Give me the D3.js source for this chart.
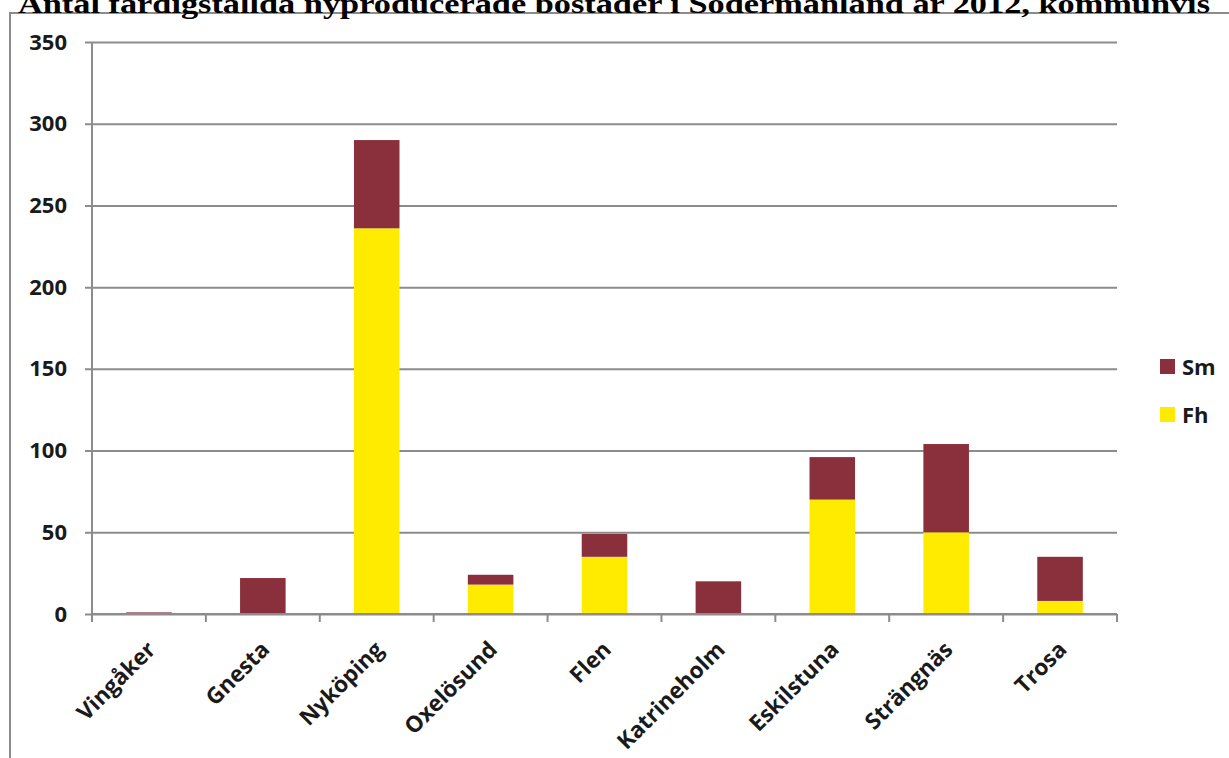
<!DOCTYPE html>
<html>
<head>
<meta charset="utf-8">
<script src="https://cdn.jsdelivr.net/npm/d3@7"></script>
<style>
  body { margin: 0; background: #fff; }
  svg { display: block; }
</style>
</head>
<body>
<div class="canvas"></div>
<script>
// data
const kommuner = ['Vingåker', 'Gnesta', 'Nyköping', 'Oxelösund', 'Flen', 'Katrineholm', 'Eskilstuna', 'Strängnäs', 'Trosa'];
const fh = [0, 0, 236, 18, 35, 0, 70, 50, 8];
const sm = [1, 22, 54, 6, 14, 20, 26, 54, 27];
const yTicks = [0, 50, 100, 150, 200, 250, 300, 350];
const seriesNames = ['Fh', 'Sm'];
const seriesColors = { Fh: '#ffeb00', Sm: '#8a303c' };

const rows = kommuner.map((k, i) => ({ kommun: k, Fh: fh[i], Sm: sm[i] }));

const svg = d3.select('.canvas').append('svg')
    .attr('width', 1229)
    .attr('height', 758);

// outer chart border (right/bottom fall outside the picture)
svg.append('rect')
    .attr('x', 10).attr('y', 13)
    .attr('width', 1300).attr('height', 800)
    .attr('fill', 'none')
    .attr('stroke', '#8c8c8c')
    .attr('stroke-width', 2);

svg.append('text')
    .attr('x', 18).attr('y', 13)
    .attr('textLength', 1192)
    .attr('lengthAdjust', 'spacingAndGlyphs')
    .style('font-family', 'Liberation Serif, serif')
    .style('font-weight', 'bold')
    .style('font-size', '27px')
    .attr('fill', '#000')
    .text('Antal färdigställda nyproducerade bostäder i Södermanland år 2012, kommunvis');

const plotLeft = 92, plotRight = 1117, plotTop = 42, plotBottom = 614;

const x = d3.scaleBand()
    .domain(kommuner)
    .range([plotLeft, plotRight])
    .paddingInner(0.6)
    .paddingOuter(0.3);

const y = d3.scaleLinear()
    .domain([0, 350])
    .range([plotBottom, plotTop]);

// gridlines + y labels
const yAxis = svg.append('g')
    .attr('transform', `translate(${plotLeft},0)`)
    .call(d3.axisLeft(y).tickValues(yTicks).tickSize(-(plotRight - plotLeft)).tickSizeOuter(0).tickPadding(25));
yAxis.select('.domain').remove();
yAxis.selectAll('.tick line')
    .attr('x1', -7)
    .attr('stroke', '#8c8c8c')
    .attr('stroke-width', 2);
yAxis.selectAll('.tick text')
    .style('font-family', 'Open Sans, sans-serif')
    .style('font-weight', 'bold')
    .style('font-size', '22px')
    .attr('fill', '#1a1a1a');

// vertical axis line
svg.append('line')
    .attr('x1', plotLeft).attr('x2', plotLeft)
    .attr('y1', plotTop).attr('y2', plotBottom)
    .attr('stroke', '#8c8c8c')
    .attr('stroke-width', 2);

// stacked bars
const stack = d3.stack().keys(seriesNames)(rows);

svg.append('g')
  .selectAll('g')
  .data(stack)
  .join('g')
    .attr('fill', d => seriesColors[d.key])
  .selectAll('rect')
  .data(d => d)
  .join('rect')
    .attr('x', d => x(d.data.kommun))
    .attr('width', x.bandwidth())
    .attr('y', d => y(d[1]))
    .attr('height', d => y(d[0]) - y(d[1]));

// x axis with category ticks on band edges
const step = x.step();
const xAxis = svg.append('g');
xAxis.append('line')
    .attr('x1', plotLeft).attr('x2', plotRight)
    .attr('y1', plotBottom).attr('y2', plotBottom)
    .attr('stroke', '#8c8c8c')
    .attr('stroke-width', 2);
xAxis.selectAll('line.tk')
  .data(d3.range(kommuner.length + 1))
  .join('line')
    .attr('class', 'tk')
    .attr('x1', i => plotLeft + i * step)
    .attr('x2', i => plotLeft + i * step)
    .attr('y1', plotBottom)
    .attr('y2', plotBottom + 8)
    .attr('stroke', '#8c8c8c')
    .attr('stroke-width', 2);

xAxis.selectAll('text')
  .data(kommuner)
  .join('text')
    .attr('text-anchor', 'end')
    .attr('transform', d => `translate(${x(d) + x.bandwidth() / 2 + 8},${plotBottom + 37}) rotate(-45)`)
    .style('font-family', 'Open Sans, sans-serif')
    .style('font-weight', 'bold')
    .style('font-size', '22.5px')
    .attr('fill', '#1a1a1a')
    .text(d => d);

// legend
const legend = svg.append('g')
    .attr('transform', 'translate(1160,359)');
const legendItems = legend.selectAll('g')
  .data(['Sm', 'Fh'])
  .join('g')
    .attr('transform', (d, i) => `translate(0,${i * 48})`);
legendItems.append('rect')
    .attr('width', 15).attr('height', 15)
    .attr('fill', d => seriesColors[d]);
legendItems.append('text')
    .attr('x', 22).attr('y', 16)
    .style('font-family', 'Open Sans, sans-serif')
    .style('font-weight', 'bold')
    .style('font-size', '22px')
    .attr('fill', '#1a1a1a')
    .text(d => d);
</script>
</body>
</html>
